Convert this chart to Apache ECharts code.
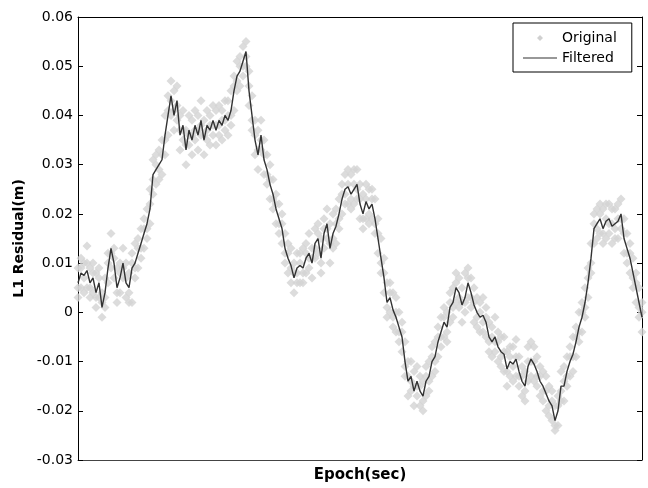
<!DOCTYPE html>
<html>
<head>
<meta charset="utf-8">
<script src="https://cdn.jsdelivr.net/npm/echarts@6/dist/echarts.min.js"></script>
<style>
html, body { margin: 0; padding: 0; background: #fff; }
#chart { width: 648px; height: 488px; }
</style>
</head>
<body>
<div id="chart"></div>
<script>
// filtered L1 residual (m), one value per sample step
const filtered = [
  0.006, 0.008, 0.0075, 0.0085, 0.006, 0.007, 0.004, 0.006, 0.001, 0.004,
  0.009, 0.013, 0.010, 0.005, 0.007, 0.010, 0.006, 0.005, 0.009, 0.010,
  0.012, 0.014, 0.016, 0.018, 0.021, 0.028, 0.029, 0.030, 0.031, 0.036,
  0.040, 0.044, 0.040, 0.043, 0.036, 0.038, 0.033, 0.037, 0.035, 0.038,
  0.036, 0.039, 0.035, 0.038, 0.037, 0.039, 0.037, 0.039, 0.038, 0.040,
  0.039, 0.041, 0.045, 0.048, 0.049, 0.051, 0.053, 0.045, 0.040, 0.035,
  0.032, 0.036, 0.031, 0.029, 0.026, 0.024, 0.021, 0.019, 0.017, 0.013,
  0.011, 0.0095, 0.007, 0.009, 0.0095, 0.009, 0.011, 0.012, 0.010, 0.014,
  0.015, 0.011, 0.016, 0.018, 0.013, 0.016, 0.0175, 0.020, 0.023, 0.025,
  0.0255, 0.024, 0.025, 0.026, 0.022, 0.020, 0.0225, 0.021, 0.022, 0.019,
  0.015, 0.011, 0.007, 0.002, 0.003, 0.0005, -0.001, -0.003, -0.005, -0.010,
  -0.014, -0.013, -0.016, -0.014, -0.016, -0.017, -0.014, -0.013, -0.010, -0.009,
  -0.006, -0.004, -0.002, -0.003, 0.001, 0.002, 0.005, 0.004, 0.0015, 0.003,
  0.006, 0.004, 0.0015, 0.000, -0.001, -0.0006, -0.002, -0.005, -0.006, -0.005,
  -0.007, -0.008, -0.0085, -0.0115, -0.010, -0.0105, -0.0095, -0.012, -0.014, -0.015,
  -0.011, -0.0095, -0.0105, -0.012, -0.014, -0.015, -0.0165, -0.018, -0.019, -0.022,
  -0.020, -0.015, -0.015, -0.012, -0.010, -0.0085, -0.006, -0.003, -0.001, 0.002,
  0.006, 0.011, 0.017, 0.018, 0.019, 0.017, 0.0185, 0.019, 0.0175, 0.018,
  0.0185, 0.020, 0.015, 0.013, 0.011, 0.008, 0.005, 0.002, -0.001
];

// original (unfiltered) samples, upper / middle / lower part of the band
const originalHigh = [
  0.009, 0.011, 0.010, 0.0135, 0.009, 0.010, 0.008, 0.009, 0.004, 0.007,
  0.012, 0.016, 0.013, 0.009, 0.010, 0.013, 0.010, 0.008, 0.012, 0.014,
  0.015, 0.017, 0.019, 0.021, 0.025, 0.031, 0.032, 0.033, 0.035, 0.040,
  0.044, 0.047, 0.045, 0.046, 0.040, 0.041, 0.037, 0.040, 0.039, 0.041,
  0.040, 0.043, 0.039, 0.041, 0.040, 0.042, 0.041, 0.042, 0.041, 0.043,
  0.043, 0.045, 0.048, 0.051, 0.052, 0.054, 0.055, 0.049, 0.044, 0.039,
  0.037, 0.039, 0.035, 0.032, 0.030, 0.027, 0.024, 0.022, 0.020, 0.016,
  0.014, 0.013, 0.010, 0.012, 0.012, 0.013, 0.014, 0.016, 0.013, 0.017,
  0.018, 0.015, 0.019, 0.021, 0.018, 0.020, 0.021, 0.023, 0.026, 0.028,
  0.029, 0.028, 0.029, 0.029, 0.026, 0.024, 0.026, 0.025, 0.025, 0.023,
  0.019, 0.015, 0.011, 0.006, 0.006, 0.004, 0.003, 0.000, -0.002, -0.006,
  -0.010, -0.010, -0.012, -0.011, -0.013, -0.014, -0.011, -0.010, -0.007, -0.006,
  -0.003, -0.001, 0.001, 0.000, 0.004, 0.005, 0.008, 0.007, 0.005, 0.008,
  0.009, 0.007, 0.005, 0.003, 0.002, 0.003, 0.001, -0.002, -0.003, -0.001,
  -0.004, -0.005, -0.005, -0.008, -0.007, -0.007, -0.0055, -0.009, -0.011, -0.012,
  -0.007, -0.006, -0.007, -0.009, -0.011, -0.012, -0.013, -0.015, -0.016, -0.019,
  -0.017, -0.012, -0.011, -0.009, -0.007, -0.005, -0.003, 0.000, 0.002, 0.005,
  0.009, 0.014, 0.020, 0.021, 0.022, 0.021, 0.022, 0.022, 0.021, 0.021,
  0.022, 0.023, 0.019, 0.016, 0.014, 0.011, 0.008, 0.005, 0.002
];

const originalMid = [
  0.005, 0.009, 0.007, 0.010, 0.005, 0.008, 0.003, 0.007, 0.002, 0.003,
  0.010, 0.012, 0.011, 0.004, 0.008, 0.009, 0.007, 0.004, 0.010, 0.009,
  0.013, 0.013, 0.017, 0.017, 0.022, 0.027, 0.030, 0.029, 0.032, 0.035,
  0.041, 0.043, 0.041, 0.042, 0.037, 0.037, 0.034, 0.036, 0.036, 0.037,
  0.037, 0.038, 0.036, 0.037, 0.038, 0.038, 0.038, 0.038, 0.039, 0.039,
  0.040, 0.040, 0.046, 0.047, 0.050, 0.050, 0.052, 0.046, 0.039, 0.036,
  0.033, 0.035, 0.032, 0.028, 0.027, 0.023, 0.022, 0.018, 0.018, 0.012,
  0.012, 0.009, 0.008, 0.008, 0.010, 0.008, 0.012, 0.011, 0.011, 0.013,
  0.016, 0.010, 0.017, 0.017, 0.014, 0.015, 0.018, 0.019, 0.024, 0.024,
  0.026, 0.023, 0.026, 0.025, 0.023, 0.019, 0.023, 0.020, 0.023, 0.018,
  0.016, 0.010, 0.008, 0.001, 0.004, -0.001, 0.000, -0.004, -0.004, -0.011,
  -0.013, -0.014, -0.015, -0.015, -0.015, -0.018, -0.013, -0.014, -0.009, -0.010,
  -0.005, -0.005, -0.001, -0.004, 0.002, 0.001, 0.006, 0.003, 0.002, 0.002,
  0.007, 0.003, 0.002, -0.001, 0.000, -0.002, -0.001, -0.006, -0.005, -0.006,
  -0.006, -0.009, -0.008, -0.012, -0.009, -0.011, -0.009, -0.013, -0.013, -0.016,
  -0.010, -0.010, -0.010, -0.013, -0.013, -0.016, -0.016, -0.019, -0.018, -0.023,
  -0.019, -0.016, -0.014, -0.013, -0.009, -0.009, -0.005, -0.004, 0.000, 0.001,
  0.007, 0.010, 0.018, 0.017, 0.020, 0.016, 0.019, 0.018, 0.018, 0.017,
  0.019, 0.019, 0.016, 0.012, 0.012, 0.007, 0.006, 0.001, 0.000
];

const originalLow = [
  0.003, 0.005, 0.004, 0.005, 0.003, 0.004, 0.001, 0.003, -0.001, 0.001,
  0.006, 0.009, 0.007, 0.002, 0.004, 0.007, 0.003, 0.002, 0.002, 0.007,
  0.009, 0.011, 0.013, 0.015, 0.018, 0.024, 0.026, 0.027, 0.028, 0.032,
  0.036, 0.040, 0.037, 0.039, 0.033, 0.035, 0.030, 0.034, 0.032, 0.035,
  0.033, 0.036, 0.032, 0.035, 0.034, 0.036, 0.034, 0.036, 0.035, 0.037,
  0.036, 0.038, 0.041, 0.045, 0.046, 0.048, 0.050, 0.042, 0.037, 0.032,
  0.029, 0.033, 0.028, 0.026, 0.023, 0.021, 0.018, 0.016, 0.014, 0.010,
  0.008, 0.006, 0.004, 0.006, 0.006, 0.006, 0.008, 0.009, 0.007, 0.011,
  0.012, 0.008, 0.013, 0.015, 0.010, 0.013, 0.014, 0.017, 0.020, 0.022,
  0.022, 0.021, 0.022, 0.023, 0.019, 0.017, 0.019, 0.018, 0.019, 0.016,
  0.012, 0.008, 0.004, -0.001, 0.000, -0.003, -0.004, -0.006, -0.008, -0.013,
  -0.017, -0.016, -0.019, -0.017, -0.019, -0.020, -0.017, -0.016, -0.013, -0.012,
  -0.009, -0.007, -0.005, -0.006, -0.002, -0.001, 0.002, 0.001, -0.002, 0.000,
  0.003, 0.001, -0.002, -0.003, -0.004, -0.004, -0.005, -0.008, -0.009, -0.008,
  -0.010, -0.011, -0.012, -0.015, -0.013, -0.014, -0.013, -0.015, -0.017, -0.018,
  -0.014, -0.013, -0.014, -0.015, -0.017, -0.018, -0.020, -0.021, -0.022, -0.024,
  -0.023, -0.018, -0.018, -0.015, -0.013, -0.012, -0.009, -0.006, -0.004, -0.001,
  0.003, 0.008, 0.014, 0.015, 0.016, 0.014, 0.015, 0.016, 0.014, 0.015,
  0.015, 0.017, 0.012, 0.010, 0.008, 0.005, 0.002, -0.001, -0.004
];

const yMin = -0.03;
const yMax = 0.06;
const yStep = 0.01;

const font = 'DejaVu Sans, sans-serif';
const gray = '#d3d3d3';

const toPoints = arr => arr.map((v, i) => [i, v]);

const originalSeries = [originalHigh, originalMid, originalLow].map(arr => ({
  name: 'Original',
  type: 'scatter',
  symbol: 'diamond',
  symbolSize: 9,
  itemStyle: { color: gray },
  data: toPoints(arr),
  z: 2
}));

const chart = echarts.init(document.getElementById('chart'));
chart.setOption({
  animation: false,
  backgroundColor: '#fff',
  grid: { left: 78, right: 6, top: 17, bottom: 25 },
  legend: {
    orient: 'vertical',
    left: 513,
    top: 23,
    data: [
      { name: 'Original', icon: 'path://M5,0L10,5L5,10L0,5Z', itemStyle: { color: '#c4c4c4' } },
      { name: 'Filtered', icon: 'path://M0,0H34V1H0Z', itemStyle: { color: '#333' } }
    ],
    symbolKeepAspect: true,
    itemWidth: 34,
    itemHeight: 6,
    itemGap: 4,
    padding: [7, 15, 6, 10],
    borderColor: '#000',
    borderWidth: 1,
    borderRadius: 0,
    backgroundColor: '#fff',
    textStyle: { fontFamily: font, fontSize: 14, color: '#000', lineHeight: 16 },
    z: 10
  },
  xAxis: [
    {
      type: 'value',
      min: 0,
      max: filtered.length - 1,
      name: 'Epoch(sec)',
      nameLocation: 'middle',
      nameGap: 8,
      nameTextStyle: { fontFamily: font, fontSize: 15, fontWeight: 'bold', color: '#000', verticalAlign: 'top' },
      axisLine: { show: true, onZero: false, lineStyle: { color: '#444', width: 1 } },
      axisTick: { show: false },
      axisLabel: { show: false },
      splitLine: { show: false }
    },
    {
      type: 'value',
      position: 'top',
      min: 0,
      max: filtered.length - 1,
      axisLine: { show: true, onZero: false, lineStyle: { color: '#000', width: 1 } },
      axisTick: { show: false },
      axisLabel: { show: false },
      splitLine: { show: false }
    }
  ],
  yAxis: [
    {
      type: 'value',
      min: yMin,
      max: yMax,
      interval: yStep,
      name: 'L1 Residual(m)',
      nameLocation: 'middle',
      nameGap: 48,
      nameTextStyle: { fontFamily: font, fontSize: 14, fontWeight: 'bold', color: '#000' },
      axisLine: { show: true, onZero: false, lineStyle: { color: '#000', width: 1 } },
      axisTick: { show: true, inside: true, length: 5, lineStyle: { color: '#000' } },
      axisLabel: {
        fontFamily: font,
        fontSize: 14,
        color: '#000',
        margin: 5,
        formatter: v => (Math.abs(v) < 1e-9 ? '0' : v.toFixed(2))
      },
      splitLine: { show: false }
    },
    {
      type: 'value',
      position: 'right',
      min: yMin,
      max: yMax,
      interval: yStep,
      axisLine: { show: true, onZero: false, lineStyle: { color: '#000', width: 1 } },
      axisTick: { show: true, inside: true, length: 5, lineStyle: { color: '#000' } },
      axisLabel: { show: false },
      splitLine: { show: false }
    }
  ],
  series: originalSeries.concat([
    {
      name: 'Filtered',
      type: 'line',
      symbol: 'none',
      showSymbol: false,
      lineStyle: { color: '#333', width: 1.4 },
      itemStyle: { color: '#333' },
      data: toPoints(filtered),
      z: 5
    }
  ])
});
</script>
</body>
</html>
